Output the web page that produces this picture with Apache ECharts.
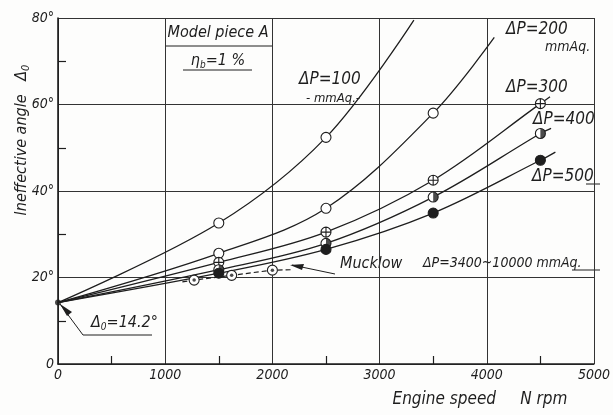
<!DOCTYPE html>
<html>
<head>
<meta charset="utf-8">
<script src="https://cdn.jsdelivr.net/npm/echarts@6/dist/echarts.min.js"></script>
<style>
  html, body { margin: 0; padding: 0; background: #fdfdfc; }
  #chart { width: 613px; height: 415px; }
</style>
</head>
<body>
<div id="chart"></div>
<script>
// engine speed (rpm) where the points were measured
var rpm = [1500, 2500, 3500, 4500];
var origin = [0, 14.2];
// ineffective angle (deg) for each pressure drop
var dp100 = [32.6, 52.4];
var dp200 = [25.6, 36.0, 58.0];
var dp300 = [23.5, 30.5, 42.5, 60.2];
var dp400 = [21.8, 27.9, 38.6, 53.3];
var dp500 = [21.0, 26.5, 34.9, 47.1];
// where each drawn curve stops
var end100 = [3320, 79.5];
var end200 = [4070, 75.5];
var end300 = [4590, 61.8];
var end400 = [4600, 54.5];
var end500 = [4640, 49.0];
// Mucklow's line
var mucklowRpm = [1270, 1620, 2000];
var mucklowVal = [19.4, 20.5, 21.7];
var mucklowStart = [1160, 19.0];
var mucklowEnd = [2180, 21.8];

var xTicks = ['0', '1000', '2000', '3000', '4000', '5000'];

var INK = '#1e1e1e';
var FONT = "'Liberation Sans Narrow', 'DejaVu Sans Condensed', 'Liberation Sans', sans-serif";

function points(ys) {
    return ys.map(function (y, i) { return [rpm[i], y]; });
}
function curve(ys, end) {
    var d = [{ value: origin, symbol: 'none' }];
    points(ys).forEach(function (p) { d.push({ value: p }); });
    d.push({ value: end, symbol: 'none' });
    return d;
}
function lineSeries(ys, end, symbol, fill) {
    return {
        type: 'line',
        data: curve(ys, end),
        smooth: 0.35,
        symbol: symbol,
        symbolSize: 10,
        lineStyle: { color: INK, width: 1.3 },
        itemStyle: { color: fill, borderColor: INK, borderWidth: 1.1 },
        z: 3
    };
}

var crossCircle = 'path://M0,-10A10,10 0 1,1 0,10A10,10 0 1,1 0,-10Z M-10,0L10,0 M0,-10L0,10';
var halfDisc = 'path://M-10,0 M0,-10A10,10 0 0,1 0,10Z';

var mucklowData = [{ value: mucklowStart, symbol: 'none' }];
mucklowRpm.forEach(function (x, i) { mucklowData.push({ value: [x, mucklowVal[i]] }); });
mucklowData.push({ value: mucklowEnd, symbol: 'none' });

var chart = echarts.init(document.getElementById('chart'), null, { renderer: 'canvas' });

function txt(x, y, s, size, align) {
    return {
        type: 'text', x: x, y: y,
        style: {
            text: s, fill: INK, font: 'italic ' + size + 'px ' + FONT,
            align: align || 'left', verticalAlign: 'middle'
        }
    };
}
function seg(pts, w) {
    return { type: 'polyline', shape: { points: pts }, style: { stroke: INK, lineWidth: w || 1, fill: null } };
}

chart.setOption({
    animation: false,
    backgroundColor: '#fdfdfc',
    grid: { left: 58, right: 14, top: 18, bottom: 51, show: false },
    xAxis: {
        type: 'value', min: 0, max: 5000, interval: 1000,
        axisLine: { show: true, lineStyle: { color: INK, width: 1.6 } },
        axisTick: { show: false, inside: true },
        minorTick: { show: true, splitNumber: 2, length: 8, lineStyle: { color: INK, width: 1.2 } },
        splitLine: { show: true, lineStyle: { color: '#333', width: 1 } },
        axisLabel: {
            color: INK, fontStyle: 'italic', fontFamily: FONT, fontSize: 14, margin: 4,
            formatter: function (v) { return xTicks[Math.round(v / 1000)]; }
        }
    },
    yAxis: {
        type: 'value', min: 0, max: 80, interval: 20,
        axisLine: { show: true, lineStyle: { color: INK, width: 1.6 } },
        axisTick: { show: false, inside: true },
        minorTick: { show: true, splitNumber: 2, length: 8, lineStyle: { color: INK, width: 1.2 } },
        splitLine: { show: true, lineStyle: { color: '#333', width: 1 } },
        axisLabel: {
            color: INK, fontStyle: 'italic', fontFamily: FONT, fontSize: 14, margin: 4,
            formatter: function (v) { return v === 0 ? '0' : v + '°'; }
        }
    },
    series: [
        lineSeries(dp100, end100, 'circle', '#fff'),
        lineSeries(dp200, end200, 'circle', '#fff'),
        lineSeries(dp300, end300, crossCircle, '#fff'),
        lineSeries(dp400, end400, 'circle', '#fff'),
        lineSeries(dp500, end500, 'circle', INK),
        {
            type: 'scatter', data: points(dp400), symbol: halfDisc, symbolSize: 10,
            symbolKeepAspect: true, itemStyle: { color: INK }, z: 4
        },
        {
            type: 'line', data: mucklowData, smooth: false,
            symbol: 'circle', symbolSize: 10,
            lineStyle: { color: INK, width: 1.2, type: [5, 3] },
            itemStyle: { color: '#fff', borderColor: INK, borderWidth: 1.1 }, z: 3
        },
        {
            type: 'scatter', data: mucklowRpm.map(function (x, i) { return [x, mucklowVal[i]]; }),
            symbol: 'circle', symbolSize: 3.5, itemStyle: { color: INK }, z: 4
        },
        {
            type: 'scatter', data: [origin], symbol: 'circle', symbolSize: 6,
            itemStyle: { color: INK }, z: 5
        }
    ],
    graphic: [
        // y-axis title
        {
            type: 'text', x: 22, y: 140, rotation: Math.PI / 2,
            style: {
                text: '{a|Ineffective angle   Δ}{s|0}', align: 'center', verticalAlign: 'middle',
                rich: {
                    a: { font: 'italic 16px ' + FONT, fill: INK },
                    s: { font: 'italic 11px ' + FONT, fill: INK, padding: [8, 0, 0, 0] }
                }
            }
        },
        txt(480, 400, 'Engine speed     N rpm', 17, 'center'),
        // box label
        txt(218, 33, 'Model piece A', 16, 'center'),
        seg([[165, 46], [273, 46]]),
        {
            type: 'text', x: 218, y: 61,
            style: {
                text: '{a|η}{s|b}{a|=1 %}', align: 'center', verticalAlign: 'middle',
                rich: {
                    a: { font: 'italic 16px ' + FONT, fill: INK },
                    s: { font: 'italic 10px ' + FONT, fill: INK, padding: [8, 0, 0, 0] }
                }
            }
        },
        seg([[183, 70], [252, 70]]),
        // curve labels
        txt(299, 80, 'ΔP=100', 17),
        txt(306, 99, '- mmAq.-', 13),
        txt(506, 30, 'ΔP=200', 17),
        txt(545, 47, 'mmAq.', 14),
        txt(506, 88, 'ΔP=300', 17),
        txt(533, 120, 'ΔP=400', 17),
        txt(532, 177, 'ΔP=500', 17),
        seg([[586, 184], [600, 184]]),
        // Mucklow leader
        txt(340, 264, 'Mucklow', 16),
        seg([[292, 265], [335, 274]]),
        { type: 'polygon', shape: { points: [[290, 265], [304, 264], [302, 270]] }, style: { fill: INK } },
        txt(423, 263, 'ΔP=3400~10000 mmAq.', 14),
        seg([[572, 270], [600, 270]]),
        // starting value leader
        seg([[60, 304], [83, 335], [152, 335]]),
        { type: 'polygon', shape: { points: [[60, 304], [72, 312], [67, 316]] }, style: { fill: INK } },
        {
            type: 'text', x: 91, y: 323,
            style: {
                text: '{a|Δ}{s|0}{a|=14.2°}', verticalAlign: 'middle',
                rich: {
                    a: { font: 'italic 16px ' + FONT, fill: INK },
                    s: { font: 'italic 10px ' + FONT, fill: INK, padding: [8, 0, 0, 0] }
                }
            }
        }
    ]
});
</script>
</body>
</html>
